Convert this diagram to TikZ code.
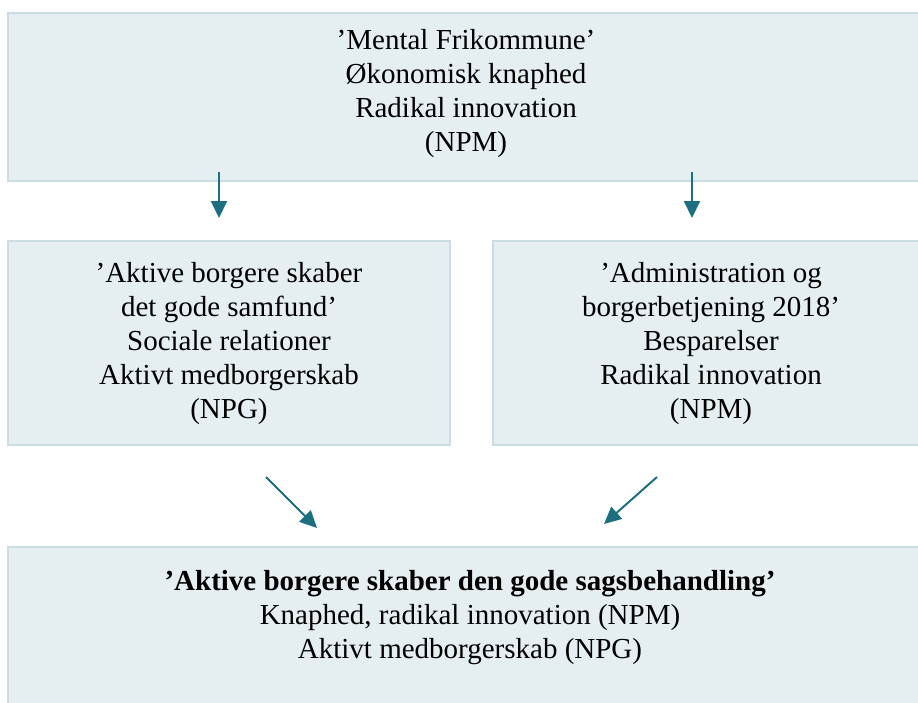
\documentclass[tikz,border=0pt]{standalone}
\usepackage{fontspec}
\setmainfont{Liberation Serif}
\usetikzlibrary{arrows.meta}
\definecolor{boxfill}{HTML}{E5EFF2}
\definecolor{boxline}{HTML}{CCDDE2}
\definecolor{arrowteal}{HTML}{1B6F80}
\tikzstyle{box} = [draw=boxline, fill=boxfill, line width=1.5pt, rectangle, inner sep=0pt]
\tikzstyle{txt} = [align=center, text centered, inner sep=0pt, font=\fontsize{29}{34}\selectfont]
\tikzstyle{line} = [draw=arrowteal, line width=2pt, -{Triangle[width=16pt,length=17pt]}]

\begin{document}
\begin{tikzpicture}[x=1pt, y=-1pt]
        \useasboundingbox (0,0) rectangle (918,702);
        % boxes
        \node[box, minimum width=930pt, minimum height=168pt] (mental) at (473,97) {};
        \node[box, minimum width=442pt, minimum height=204pt] (aktive) at (229,343) {};
        \node[box, minimum width=440pt, minimum height=204pt] (admin) at (713,343) {};
        \node[box, minimum width=930pt, minimum height=180pt] (sags) at (473,637) {};
        % texts
        \node[txt] (mentalText) at (466,94) {'Mental Frikommune'\\Økonomisk knaphed\\Radikal innovation\\(NPM)};
        \node[txt] (aktiveText) at (229,344) {'Aktive borgere skaber\\det gode samfund'\\Sociale relationer\\Aktivt medborgerskab\\(NPG)};
        \node[txt] (adminText) at (711,344) {'Administration og\\borgerbetjening 2018'\\Besparelser\\Radikal innovation\\(NPM)};
        \node[txt] (sagsText) at (470,618) {\textbf{'Aktive borgere skaber den gode sagsbehandling'}\\Knaphed, radikal innovation (NPM)\\Aktivt medborgerskab (NPG)};
        % arrows
        \coordinate (a1) at (219,172);
        \coordinate (b1) at (219,218);
        \coordinate (a2) at (692,172);
        \coordinate (b2) at (692,218);
        \coordinate (a3) at (266,477);
        \coordinate (b3) at (317,528);
        \coordinate (a4) at (657,477);
        \coordinate (b4) at (604,524);
        \path[line] (a1) -- (b1);
        \path[line] (a2) -- (b2);
        \path[line] (a3) -- (b3);
        \path[line] (a4) -- (b4);
\end{tikzpicture}
\end{document}
